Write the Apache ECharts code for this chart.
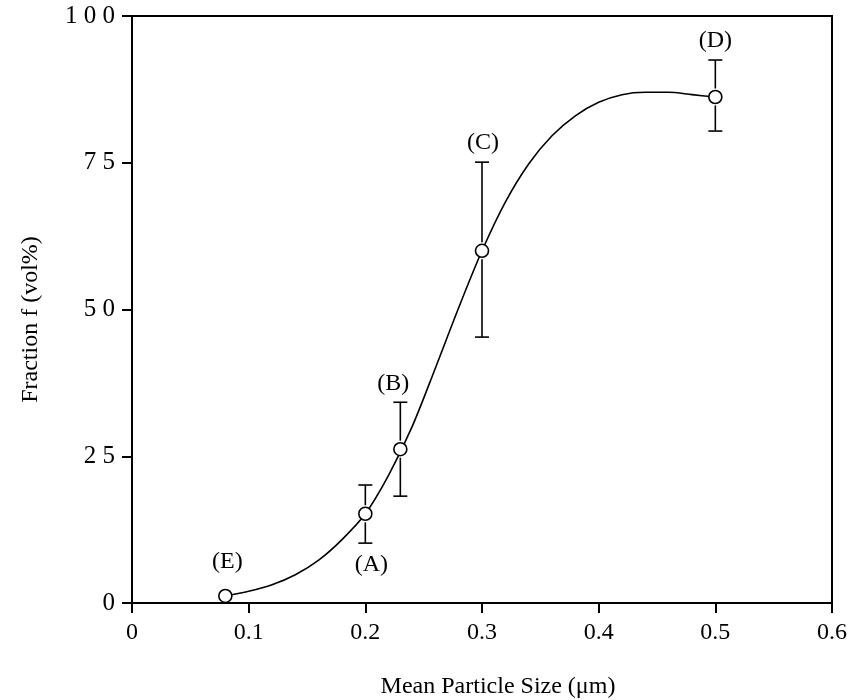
<!DOCTYPE html>
<html>
<head>
<meta charset="utf-8">
<script src="https://cdn.jsdelivr.net/npm/echarts@6/dist/echarts.min.js"></script>
<style>
html,body{margin:0;padding:0;background:#fff;}
#chart{width:851px;height:700px;}
</style>
</head>
<body>
<div id="chart"></div>
<script>
// Measured points
var pointNames = ['(E)', '(A)', '(B)', '(C)', '(D)'];
var pointX = [0.08, 0.20, 0.23, 0.30, 0.50];
var pointY = [1.2, 15.2, 26.2, 60.0, 86.2];
var errLow = [null, 10.2, 18.2, 45.3, 80.4];
var errHigh = [null, 20.1, 34.2, 75.1, 92.5];

// Fitted curve
var curveX = [0.08, 0.10, 0.12, 0.14, 0.16, 0.18, 0.20, 0.22, 0.24, 0.26, 0.28, 0.30, 0.32, 0.34, 0.36, 0.38, 0.40, 0.42, 0.44, 0.46, 0.48, 0.50];
var curveY = [1.2, 2.0, 3.1, 4.8, 7.3, 10.8, 15.2, 21.8, 30.0, 40.0, 50.3, 60.0, 68.3, 74.8, 79.6, 83.0, 85.3, 86.6, 87.0, 87.0, 86.6, 86.2];

// Tick labels
var xTicks = [0, 0.1, 0.2, 0.3, 0.4, 0.5, 0.6];
var yTicks = [0, 25, 50, 75, 100];

var FONT = '"Liberation Serif", "Times New Roman", serif';

var curveData = curveX.map(function (x, i) { return [x, curveY[i]]; });
var pointData = pointX.map(function (x, i) { return [x, pointY[i]]; });
var errData = pointX.map(function (x, i) { return [x, pointY[i], errLow[i], errHigh[i], i]; });

// label placement relative to the error bar ends
var labelPlace = ['abovePoint', 'below', 'above', 'above', 'above'];
var labelDx = [2, 6, -7, 1, 0];

var chart = echarts.init(document.getElementById('chart'));
chart.setOption({
  animation: false,
  backgroundColor: '#fff',
  grid: { left: 132, right: 19, top: 16, bottom: 97, containLabel: false, outerBoundsMode: 'none',
    show: true, borderColor: '#000', borderWidth: 2, backgroundColor: 'transparent' },
  xAxis: {
    type: 'value', min: 0, max: 0.6, interval: 0.1,
    name: 'Mean Particle Size (\u03bcm)', nameLocation: 'middle', nameGap: 72,
    nameTextStyle: { fontFamily: FONT, fontSize: 24, color: '#000', padding: [0, 0, 0, 32] },
    axisLine: { show: true, onZero: false, lineStyle: { color: '#000', width: 2 } },
    axisTick: { show: true, length: 10, lineStyle: { color: '#000', width: 2 } },
    axisLabel: { fontFamily: FONT, fontSize: 24, color: '#000', margin: 18,
      formatter: function (v) { var s = xTicks.filter(function (t) { return Math.abs(t - v) < 1e-9; }); return s.length ? String(s[0]) : ''; } },
    splitLine: { show: false }
  },
  yAxis: {
    type: 'value', min: 0, max: 100, interval: 25,
    name: 'Fraction f (vol%)', nameLocation: 'middle', nameGap: 89,
    nameTextStyle: { fontFamily: FONT, fontSize: 24, color: '#000', padding: [0, 20, 0, 0] },
    axisLine: { show: true, onZero: false, lineStyle: { color: '#000', width: 2 } },
    axisTick: { show: true, length: 10, lineStyle: { color: '#000', width: 2 } },
    axisLabel: { fontFamily: FONT, fontSize: 25, color: '#000', margin: 17,
      formatter: function (v) { var s = yTicks.indexOf(v) >= 0 ? String(v) : ''; return s.split('').join(' '); } },
    splitLine: { show: false }
  },
  series: [
    {
      type: 'line', data: curveData, smooth: 0.3, showSymbol: false, symbol: 'none',
      lineStyle: { color: '#000', width: 1.6 }, z: 2
    },
    {
      type: 'custom', data: errData, z: 3,
      renderItem: function (params, api) {
        var x = api.value(0), y = api.value(1), lo = api.value(2), hi = api.value(3), idx = api.value(4);
        var c = api.coord([x, y]);
        var children = [];
        var r = 6.5, gap = 2, cap = 7;
        var ls = { stroke: '#000', lineWidth: 1.6 };
        var labelY;
        if (!isNaN(lo) && lo !== null && !isNaN(hi) && hi !== null) {
          var t = api.coord([x, hi]), b = api.coord([x, lo]);
          children.push({ type: 'line', shape: { x1: t[0], y1: t[1], x2: t[0], y2: c[1] - r - gap }, style: ls });
          children.push({ type: 'line', shape: { x1: b[0], y1: c[1] + r + gap, x2: b[0], y2: b[1] }, style: ls });
          children.push({ type: 'line', shape: { x1: t[0] - cap, y1: t[1], x2: t[0] + cap, y2: t[1] }, style: ls });
          children.push({ type: 'line', shape: { x1: b[0] - cap, y1: b[1], x2: b[0] + cap, y2: b[1] }, style: ls });
          labelY = labelPlace[idx] === 'below' ? b[1] + 22 : t[1] - 19;
        } else {
          labelY = c[1] - 34;
        }
        children.push({
          type: 'text',
          style: { text: pointNames[idx], x: c[0] + labelDx[idx], y: labelY, textAlign: 'center', textVerticalAlign: 'middle',
            font: '24px ' + FONT, fill: '#000' }
        });
        return { type: 'group', children: children };
      }
    },
    {
      type: 'scatter', data: pointData, symbol: 'circle', symbolSize: 13, z: 4,
      itemStyle: { color: '#fff', borderColor: '#000', borderWidth: 1.6, opacity: 1 }
    }
  ]
});
</script>
</body>
</html>
